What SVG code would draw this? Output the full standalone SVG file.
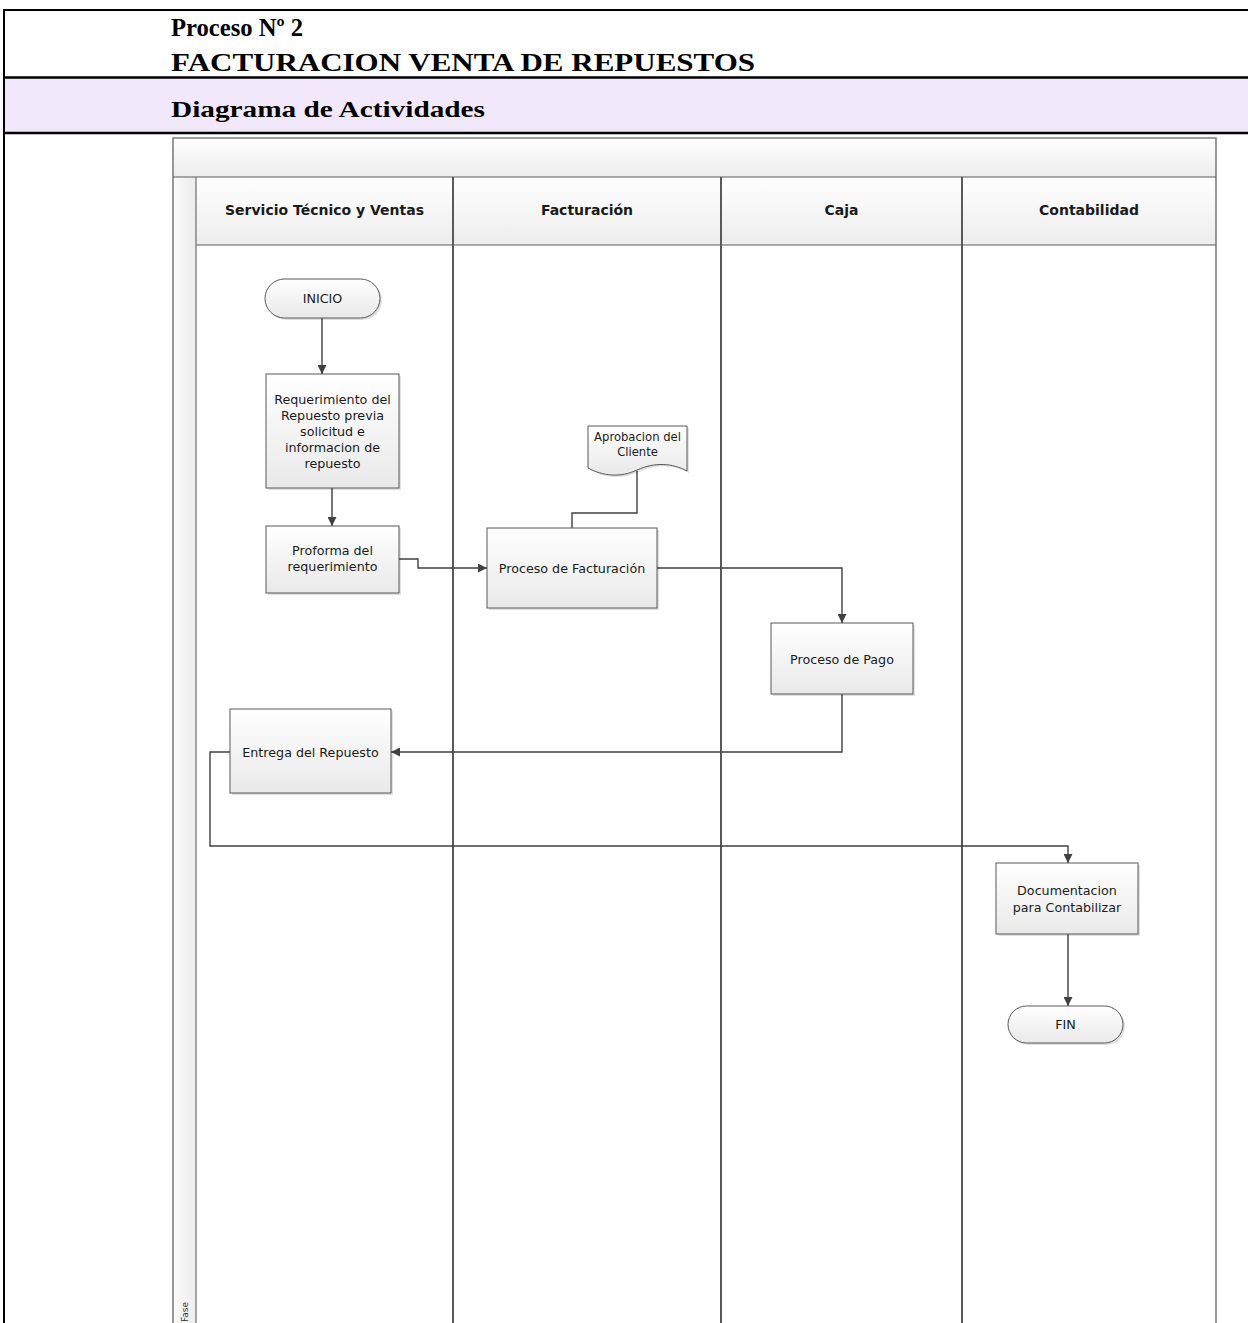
<svg xmlns="http://www.w3.org/2000/svg" width="1248" height="1323" viewBox="0 0 1248 1323">
  <style>
    .title { font-family: "Liberation Serif", "Times New Roman", serif; font-weight: bold; fill: #000; }
    .lane-title { font-family: "DejaVu Sans", sans-serif; font-weight: bold; font-size: 14px; fill: #1a1a1a; text-anchor: middle; }
    .label { font-family: "DejaVu Sans", sans-serif; font-size: 12.7px; fill: #1a1a1a; text-anchor: middle; }
    .small { font-family: "DejaVu Sans", sans-serif; font-size: 11.6px; fill: #1a1a1a; text-anchor: middle; }
    .frame { stroke: #000; fill: none; }
    .box { fill: url(#boxFill); stroke: #595959; stroke-width: 1; }
    .shadow { fill: #000; opacity: 0.12; }
    .divider { stroke: #5a5a5a; stroke-width: 2; }
    .edge { fill: none; stroke: #404040; stroke-width: 1.4; }
    .arrow { marker-end: url(#arrowhead); }
  </style>
  <defs>
    <linearGradient id="boxFill" x1="0" y1="0" x2="0" y2="1">
      <stop offset="0" stop-color="#ffffff"/>
      <stop offset="1" stop-color="#e9e9e9"/>
    </linearGradient>
    <linearGradient id="headFill" x1="0" y1="0" x2="0" y2="1">
      <stop offset="0" stop-color="#ffffff"/>
      <stop offset="1" stop-color="#ededed"/>
    </linearGradient>
    <linearGradient id="sideFill" x1="0" y1="0" x2="1" y2="0">
      <stop offset="0" stop-color="#fbfbfb"/>
      <stop offset="1" stop-color="#ececec"/>
    </linearGradient>
    <marker id="arrowhead" viewBox="0 0 10 10" refX="10" refY="5" markerWidth="9" markerHeight="9" markerUnits="userSpaceOnUse" orient="auto">
      <path d="M0,0 L10,5 L0,10 z" fill="#404040"/>
    </marker>
  </defs>

  <!-- page frame and headings -->
  <g id="page-header">
    <rect x="4" y="77" width="1250" height="56" fill="#f1e9fb"/>
    <path class="frame" stroke-width="2" d="M4,1323 V10 H1250"/>
    <path class="frame" stroke-width="2.5" d="M4,77.5 H1250 M4,133 H1250"/>
    <text class="title" x="171" y="36" font-size="25" textLength="132" lengthAdjust="spacingAndGlyphs">Proceso Nº 2</text>
    <text class="title" x="171" y="71" font-size="26" textLength="584" lengthAdjust="spacingAndGlyphs">FACTURACION VENTA DE REPUESTOS</text>
    <text class="title" x="171" y="117" font-size="24" textLength="314" lengthAdjust="spacingAndGlyphs">Diagrama de Actividades</text>
  </g>

  <!-- swimlane pool -->
  <g id="pool">
    <rect x="173" y="138" width="1043" height="39" fill="url(#headFill)"/>
    <rect x="196" y="177" width="1020" height="68" fill="url(#headFill)"/>
    <rect x="173" y="177" width="23" height="1150" fill="url(#sideFill)"/>
    <path d="M173,1330 V138 H1216 V1330" fill="none" stroke="#7f7f7f" stroke-width="1.6"/>
    <path d="M173,177 H1216" stroke="#5a5a5a" stroke-width="1.2"/>
    <path d="M196,245 H1216" stroke="#5a5a5a" stroke-width="1.2"/>
    <path d="M196,177 V1330" stroke="#7f7f7f" stroke-width="1.4"/>
    <path class="divider" d="M453,177 V1330 M721,177 V1330 M962,177 V1330"/>
    <text class="lane-title" x="324.5" y="215">Servicio Técnico y Ventas</text>
    <text class="lane-title" x="587" y="215">Facturación</text>
    <text class="lane-title" x="841.5" y="215">Caja</text>
    <text class="lane-title" x="1089" y="215">Contabilidad</text>
    <text font-family="DejaVu Sans, sans-serif" font-size="9" fill="#333" transform="translate(188,1322) rotate(-90)">Fase</text>
  </g>

  <!-- connectors -->
  <g id="connectors">
    <path class="edge arrow" d="M322,318 V374"/>
    <path class="edge arrow" d="M332,488 V526"/>
    <path class="edge arrow" d="M399,559 H418 V568 H487"/>
    <path class="edge" d="M637,471 V513 H572 V528"/>
    <path class="edge arrow" d="M657,568 H842 V623"/>
    <path class="edge arrow" d="M842,694 V752 H391"/>
    <path class="edge arrow" d="M230,752 H210 V846 H1068 V863"/>
    <path class="edge arrow" d="M1068,934 V1006"/>
  </g>

  <!-- nodes -->
  <g id="inicio">
    <rect class="shadow" x="267" y="281" width="115" height="39" rx="19.5"/>
    <rect class="box" x="265" y="279" width="115" height="39" rx="19.5"/>
    <text class="label" x="322.5" y="303">INICIO</text>
  </g>

  <g id="requerimiento">
    <rect class="shadow" x="268" y="376" width="133" height="114"/>
    <rect class="box" x="266" y="374" width="133" height="114"/>
    <text class="label" x="332.5" y="403.5">Requerimiento del</text>
    <text class="label" x="332.5" y="419.5">Repuesto previa</text>
    <text class="label" x="332.5" y="435.5">solicitud e</text>
    <text class="label" x="332.5" y="451.5">informacion de</text>
    <text class="label" x="332.5" y="467.5">repuesto</text>
  </g>

  <g id="proforma">
    <rect class="shadow" x="268" y="528" width="133" height="67"/>
    <rect class="box" x="266" y="526" width="133" height="67"/>
    <text class="label" x="332.5" y="554.5">Proforma del</text>
    <text class="label" x="332.5" y="570.5">requerimiento</text>
  </g>

  <g id="aprobacion">
    <path class="shadow" d="M590,428 H689 V473 C674,465 657,464 639,472 C622,480 605,478 590,470 Z"/>
    <path class="box" d="M588,426 H687 V471 C672,463 655,462 637,470 C620,478 603,476 588,468 Z"/>
    <text class="small" x="637.5" y="441">Aprobacion del</text>
    <text class="small" x="637.5" y="456">Cliente</text>
  </g>

  <g id="facturacion">
    <rect class="shadow" x="489" y="530" width="170" height="80"/>
    <rect class="box" x="487" y="528" width="170" height="80"/>
    <text class="label" x="572" y="572.5">Proceso de Facturación</text>
  </g>

  <g id="pago">
    <rect class="shadow" x="773" y="625" width="142" height="71"/>
    <rect class="box" x="771" y="623" width="142" height="71"/>
    <text class="label" x="842" y="663.5">Proceso de Pago</text>
  </g>

  <g id="entrega">
    <rect class="shadow" x="232" y="711" width="161" height="84"/>
    <rect class="box" x="230" y="709" width="161" height="84"/>
    <text class="label" x="310.5" y="756.5">Entrega del Repuesto</text>
  </g>

  <g id="documentacion">
    <rect class="shadow" x="998" y="865" width="142" height="71"/>
    <rect class="box" x="996" y="863" width="142" height="71"/>
    <text class="label" x="1067" y="895">Documentacion</text>
    <text class="label" x="1067" y="912">para Contabilizar</text>
  </g>

  <g id="fin">
    <rect class="shadow" x="1010" y="1008" width="115" height="37" rx="18.5"/>
    <rect class="box" x="1008" y="1006" width="115" height="37" rx="18.5"/>
    <text class="label" x="1065.5" y="1029">FIN</text>
  </g>
</svg>
